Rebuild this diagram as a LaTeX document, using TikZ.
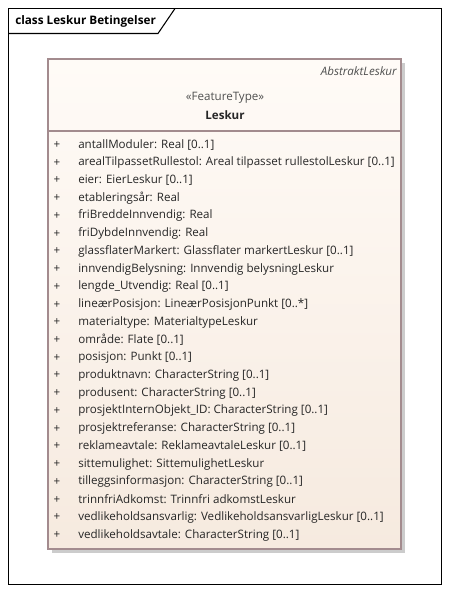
\documentclass[tikz,border=0pt]{standalone}
\usepackage{fontspec}
\setmainfont{Open Sans}
\definecolor{boxborder}{HTML}{A38B8E}
\definecolor{boxtop}{HTML}{FFFBF7}
\definecolor{boxbot}{HTML}{F6EADF}
\definecolor{txt}{HTML}{262626}
\definecolor{stereo}{HTML}{505050}
\tikzset{
  attr/.style={anchor=west, inner sep=0pt, text=txt, font=\fontsize{8.7}{10}\selectfont},
  plus/.style={anchor=center, inner sep=0pt, text=txt, font=\fontsize{8.7}{10}\selectfont},
}
\begin{document}
\begin{tikzpicture}[x=0.75pt,y=-0.75pt]
\useasboundingbox (0,0) rectangle (450,594);
\fill[white] (0,0) rectangle (450,594);
% frame
\draw[black, line width=0.8pt] (8.5,8.5) rectangle (441.5,584.5);
\draw[black, line width=0.8pt] (8.5,33.5) -- (158,33.5) -- (175,8.5);
\node[anchor=west, inner sep=0pt, font=\bfseries\fontsize{8.8}{10}\selectfont] (frametitle) at (15,21) {class Leskur Betingelser};
% class box
\fill[black!20] (51.5,62.5) rectangle (404.5,552.5);
\shade[top color=boxtop, bottom color=boxbot] (48,59) rectangle (401,549);
\draw[boxborder, line width=0.8pt] (48,59) rectangle (401,549);
\draw[boxborder, line width=0.8pt] (48,131) -- (401,131);
\node[anchor=east, inner sep=0pt, text=stereo, font=\itshape\fontsize{8.7}{10}\selectfont] (abs) at (397,71) {AbstraktLeskur};
\node[inner sep=0pt, text=stereo, font=\fontsize{8.7}{10}\selectfont] (st) at (225,98) {«FeatureType»};
\node[inner sep=0pt, text=txt, font=\bfseries\fontsize{8.7}{10}\selectfont] (name) at (225,115) {Leskur};
\foreach \t [count=\i from 0] in {
antallModuler: Real [0..1],
arealTilpassetRullestol: Areal tilpasset rullestolLeskur [0..1],
eier: EierLeskur [0..1],
etableringsår: Real,
friBreddeInnvendig: Real,
friDybdeInnvendig: Real,
glassflaterMarkert: Glassflater markertLeskur [0..1],
innvendigBelysning: Innvendig belysningLeskur,
lengde\_Utvendig: Real [0..1],
lineærPosisjon: LineærPosisjonPunkt [0..*],
materialtype: MaterialtypeLeskur,
område: Flate [0..1],
posisjon: Punkt [0..1],
produktnavn: CharacterString [0..1],
produsent: CharacterString [0..1],
prosjektInternObjekt\_ID: CharacterString [0..1],
prosjektreferanse: CharacterString [0..1],
reklameavtale: ReklameavtaleLeskur [0..1],
sittemulighet: SittemulighetLeskur,
tilleggsinformasjon: CharacterString [0..1],
trinnfriAdkomst: Trinnfri adkomstLeskur,
vedlikeholdsansvarlig: VedlikeholdsansvarligLeskur [0..1],
vedlikeholdsavtale: CharacterString [0..1]} {
  \node[plus] (p\i) at (57,145+17.73*\i) {+};
  \node[attr] (a\i) at (78,145+17.73*\i) {\t};
}
\end{tikzpicture}
\end{document}
